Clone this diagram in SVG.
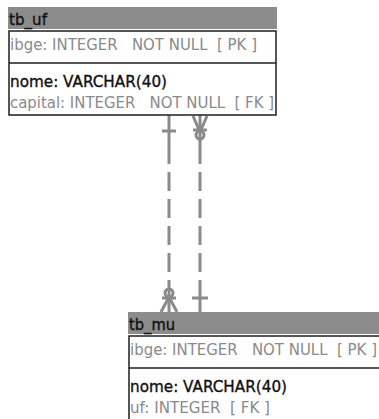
<svg xmlns="http://www.w3.org/2000/svg" width="379" height="419" viewBox="0 0 379 419">
<style>
.hdr{fill:#8c8c8c}
.body{fill:#ffffff;stroke:#1e1e1e;stroke-width:1.5}
.div{stroke:#1e1e1e;stroke-width:1.5}
.t{font-family:"DejaVu Sans",sans-serif;font-size:15px;white-space:pre}
.ttl{fill:#111;stroke:#111;stroke-width:0.35}
.g{fill:#8a8a8a}
.k{fill:#111;stroke:#111;stroke-width:0.35}
.c{stroke:#8a8a8a;stroke-width:3;fill:none}
.d{stroke-dasharray:19 8}
</style>
<rect width="379" height="419" fill="#ffffff"/>
<g id="connectors">
<line class="c" x1="169" y1="115" x2="169" y2="145"/>
<line class="c d" x1="169" y1="145" x2="169" y2="287"/>
<line class="c" x1="169" y1="287" x2="169" y2="312"/>
<line class="c" x1="162" y1="131" x2="176" y2="131"/>
<circle class="c" cx="169" cy="293" r="4"/>
<line class="c" x1="162" y1="298" x2="176" y2="298"/>
<path class="c" d="M161 312 L169 297 L177 312"/>
<line class="c" x1="200" y1="115" x2="200" y2="145"/>
<line class="c d" x1="200" y1="145" x2="200" y2="287"/>
<line class="c" x1="200" y1="287" x2="200" y2="312"/>
<path class="c" d="M193 116 L200 132 L207 116"/>
<line class="c" x1="193" y1="130" x2="207" y2="130"/>
<circle class="c" cx="200" cy="135" r="4"/>
<line class="c" x1="192" y1="298" x2="208" y2="298"/>
</g>
<g id="tb_uf">
<rect class="hdr" x="8" y="7" width="269" height="22"/>
<text class="t ttl" x="9" y="25" textLength="38" lengthAdjust="spacingAndGlyphs">tb_uf</text>
<rect class="body" x="9" y="31" width="267" height="84"/>
<line class="div" x1="9" y1="63" x2="276" y2="63"/>
<text class="t g" x="10" y="50" textLength="247" lengthAdjust="spacingAndGlyphs">ibge: INTEGER   NOT NULL  [ PK ]</text>
<text class="t k" x="10" y="87" textLength="157" lengthAdjust="spacingAndGlyphs">nome: VARCHAR(40)</text>
<text class="t g" x="10" y="108" textLength="264" lengthAdjust="spacingAndGlyphs">capital: INTEGER   NOT NULL  [ FK ]</text>
</g>
<g id="tb_mu">
<rect class="hdr" x="128" y="312" width="269" height="22"/>
<text class="t ttl" x="129" y="330" textLength="46" lengthAdjust="spacingAndGlyphs">tb_mu</text>
<rect class="body" x="129" y="336" width="267" height="90"/>
<line class="div" x1="129" y1="368" x2="396" y2="368"/>
<text class="t g" x="130" y="355" textLength="247" lengthAdjust="spacingAndGlyphs">ibge: INTEGER   NOT NULL  [ PK ]</text>
<text class="t k" x="130" y="392" textLength="157" lengthAdjust="spacingAndGlyphs">nome: VARCHAR(40)</text>
<text class="t g" x="130" y="413" textLength="140" lengthAdjust="spacingAndGlyphs">uf: INTEGER  [ FK ]</text>
</g>
</svg>
